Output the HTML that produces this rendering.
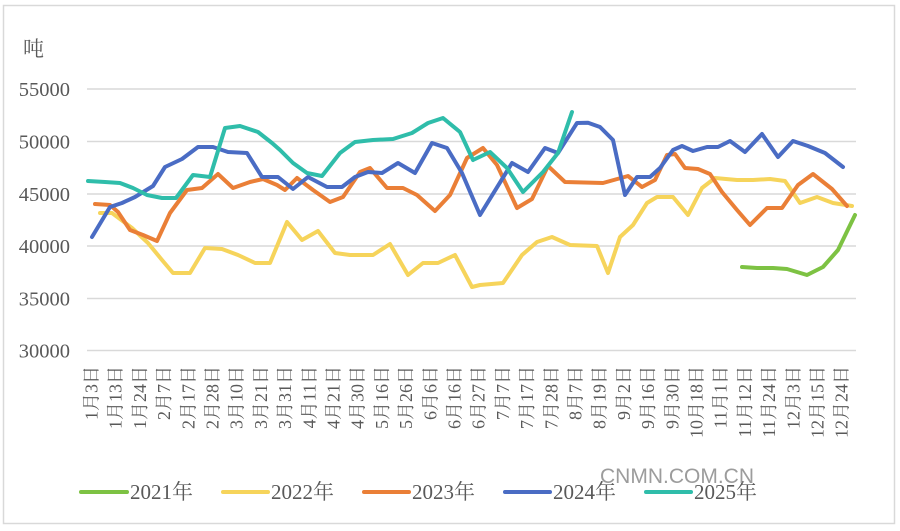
<!DOCTYPE html>
<html><head><meta charset="utf-8"><style>
html,body{margin:0;padding:0;background:#fff;}
svg{display:block;}
.ax{font-family:"Liberation Serif","Noto Serif CJK SC","Noto Sans CJK SC",serif;fill:#595959;}
</style></head><body>
<svg width="900" height="531" viewBox="0 0 900 531" xmlns="http://www.w3.org/2000/svg">
<rect x="0" y="0" width="900" height="531" fill="#fff"/>
<rect x="3.5" y="5.5" width="891" height="518" fill="#fff" stroke="#d9d9d9" stroke-width="1.5"/>
<text class="ax" x="23" y="56" font-size="21">吨</text>
<g stroke="#d9d9d9" stroke-width="1.5">
<line x1="87" y1="89" x2="856" y2="89"/>
<line x1="87" y1="141.5" x2="856" y2="141.5"/>
<line x1="87" y1="194" x2="856" y2="194"/>
<line x1="87" y1="246" x2="856" y2="246"/>
<line x1="87" y1="298.5" x2="856" y2="298.5"/>
<line x1="87" y1="350.5" x2="856" y2="350.5"/>
</g>
<g class="ax" font-size="20.5" text-anchor="end">
<text x="70" y="96">55000</text>
<text x="70" y="148.5">50000</text>
<text x="70" y="201">45000</text>
<text x="70" y="253">40000</text>
<text x="70" y="305.5">35000</text>
<text x="70" y="357.5">30000</text>
</g>
<g class="ax" font-size="18" text-anchor="end" dominant-baseline="central">
<text transform="translate(91.5,366) rotate(-90)">1月3日</text>
<text transform="translate(115.7,366) rotate(-90)">1月13日</text>
<text transform="translate(139.9,366) rotate(-90)">1月24日</text>
<text transform="translate(164.1,366) rotate(-90)">2月7日</text>
<text transform="translate(188.3,366) rotate(-90)">2月17日</text>
<text transform="translate(212.5,366) rotate(-90)">2月28日</text>
<text transform="translate(236.7,366) rotate(-90)">3月10日</text>
<text transform="translate(260.9,366) rotate(-90)">3月21日</text>
<text transform="translate(285.1,366) rotate(-90)">3月31日</text>
<text transform="translate(309.3,366) rotate(-90)">4月11日</text>
<text transform="translate(333.5,366) rotate(-90)">4月21日</text>
<text transform="translate(357.7,366) rotate(-90)">4月30日</text>
<text transform="translate(381.9,366) rotate(-90)">5月16日</text>
<text transform="translate(406.1,366) rotate(-90)">5月26日</text>
<text transform="translate(430.3,366) rotate(-90)">6月6日</text>
<text transform="translate(454.5,366) rotate(-90)">6月16日</text>
<text transform="translate(478.7,366) rotate(-90)">6月27日</text>
<text transform="translate(502.9,366) rotate(-90)">7月7日</text>
<text transform="translate(527.1,366) rotate(-90)">7月17日</text>
<text transform="translate(551.3,366) rotate(-90)">7月28日</text>
<text transform="translate(575.5,366) rotate(-90)">8月7日</text>
<text transform="translate(599.7,366) rotate(-90)">8月19日</text>
<text transform="translate(623.9,366) rotate(-90)">9月2日</text>
<text transform="translate(648.1,366) rotate(-90)">9月16日</text>
<text transform="translate(672.3,366) rotate(-90)">9月30日</text>
<text transform="translate(696.5,366) rotate(-90)">10月18日</text>
<text transform="translate(720.7,366) rotate(-90)">11月1日</text>
<text transform="translate(744.9,366) rotate(-90)">11月12日</text>
<text transform="translate(769.1,366) rotate(-90)">11月24日</text>
<text transform="translate(793.3,366) rotate(-90)">12月3日</text>
<text transform="translate(817.5,366) rotate(-90)">12月15日</text>
<text transform="translate(841.7,366) rotate(-90)">12月24日</text>
</g>
<g fill="none" stroke-width="4" stroke-linejoin="round" stroke-linecap="round">
<polyline stroke="#7dc243" points="742,267 757,268 773,268 787,269 807,275 823,267 838,250 855,215"/>
<polyline stroke="#f6d45b" points="100,213 112,213 132,228 148,243 162,260 173,273 190,273 205,248 222,249 238,255 255,263 270,263 287,222 302,240 318,231 335,253 350,255 373,255 390,244 408,275 423,263 438,263 455,255 472,287 480,285 503,283 522,255 537,242 552,237 570,245 597,246 608,273 620,237 633,225 647,203 657,197 673,197 688,215 702,188 715,178 737,180 753,180 770,179 785,181 800,203 817,197 833,203 852,206"/>
<polyline stroke="#ea7f37" points="95,204 110,205 118,212 130,230 143,235 157,241 170,213 187,190 202,188 218,174 233,188 250,182 263,179 277,185 285,190 297,178 313,190 330,202 343,197 360,172 370,168 387,188 403,188 417,195 435,211 450,195 467,158 483,148 497,165 517,208 532,199 548,166 565,182 603,183 628,176 642,187 655,180 667,155 675,154 685,168 698,169 710,174 722,192 737,210 750,225 767,208 782,208 798,185 813,174 832,189 847,206"/>
<polyline stroke="#4a6cc4" points="92,237 110,207 122,203 135,197 153,186 165,167 182,159 198,147 213,147 228,152 247,153 262,177 278,177 293,189 308,177 327,187 342,187 355,177 368,172 382,173 398,163 415,173 432,143 447,148 462,173 480,215 512,163 528,172 545,148 558,153 577,123 588,122.7 600,127 613,140 625,195 637,177 650,177 660,168 673,150 682,146 693,151 707,147 718,147 730,141 745,152 762,134 778,157 793,141 808,146 825,153 843,167"/>
<polyline stroke="#2fbdaa" points="88,181 105,182 120,183 133,188 147,195 162,198 176,198 193,175 210,177 225,128 240,126 258,132 272,143 280,150 293,163 307,173 322,176 340,153 355,142 373,140 393,139 412,133 428,123 443,118 460,132 473,160 490,152 507,168 523,192 543,172 558,153 572,112"/>
</g>
<g stroke-width="4" stroke-linecap="round">
<line x1="81" y1="492" x2="127" y2="492" stroke="#7dc243"/>
<line x1="223" y1="492" x2="268" y2="492" stroke="#f6d45b"/>
<line x1="364" y1="492" x2="409" y2="492" stroke="#ea7f37"/>
<line x1="505" y1="492" x2="550" y2="492" stroke="#4a6cc4"/>
<line x1="646" y1="492" x2="691" y2="492" stroke="#2fbdaa"/>
</g>
<g class="ax" font-size="21">
<text x="130" y="499">2021年</text>
<text x="271" y="499">2022年</text>
<text x="412" y="499">2023年</text>
<text x="553" y="499">2024年</text>
<text x="694" y="499">2025年</text>
</g>
<text x="600" y="483" font-family="Liberation Sans, sans-serif" font-size="21" fill="#9c9c9c">CNMN.COM.CN</text>
</svg>
</body></html>
